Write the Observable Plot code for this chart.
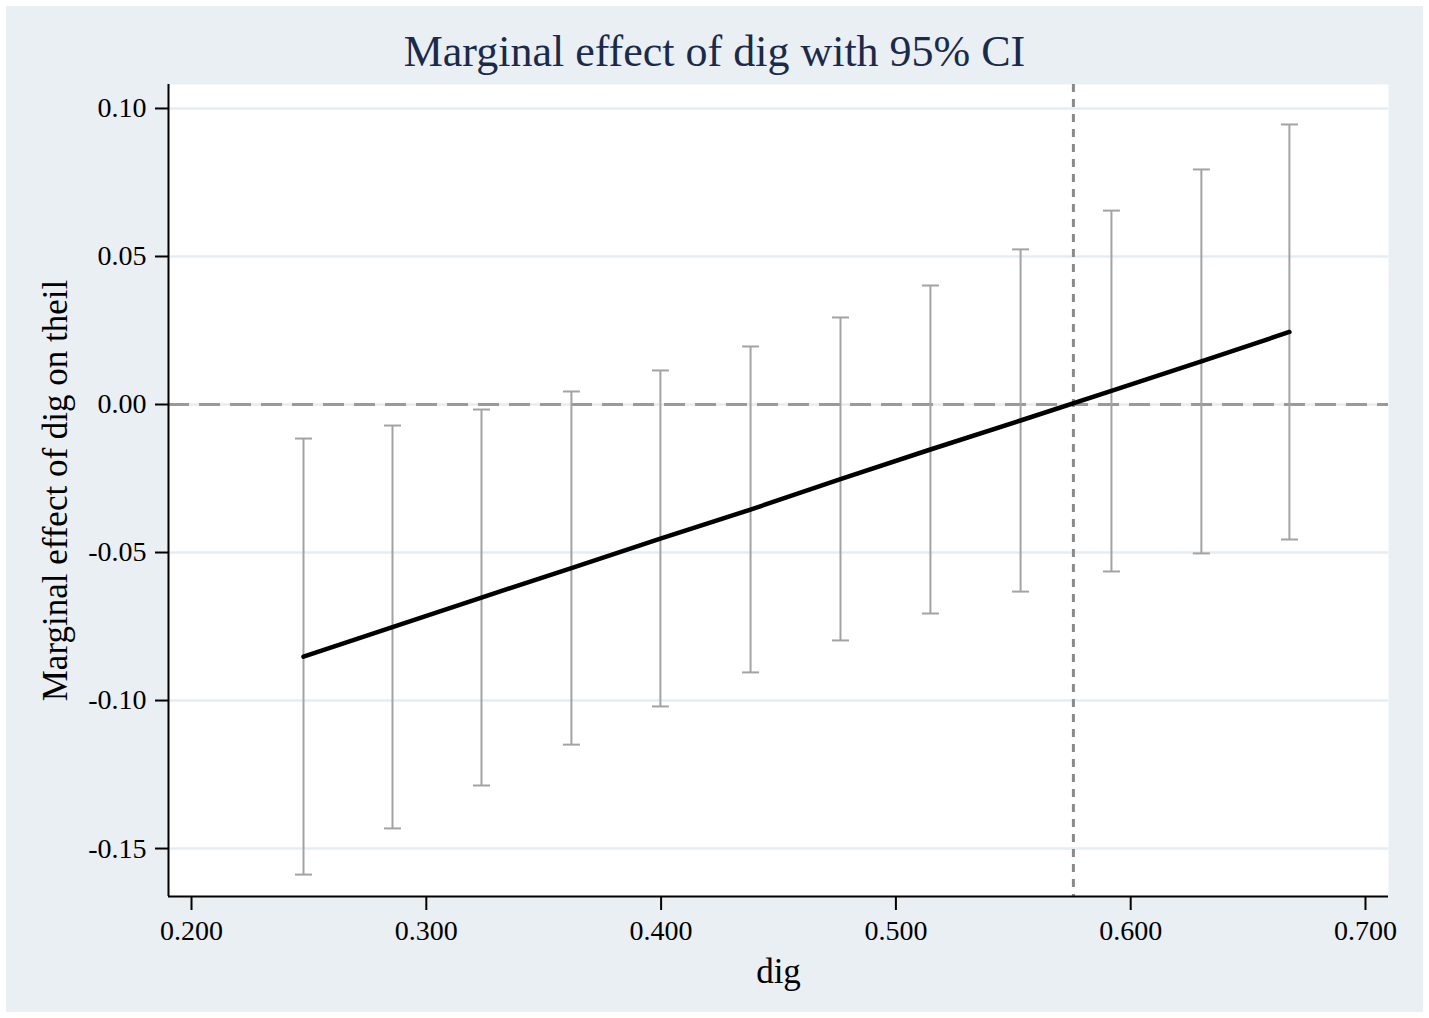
<!DOCTYPE html>
<html>
<head>
<meta charset="utf-8">
<script src="https://cdn.jsdelivr.net/npm/d3@7"></script>
<script src="https://cdn.jsdelivr.net/npm/@observablehq/plot@0.6"></script>
<style>
  html, body { margin: 0; padding: 0; background: #ffffff; }
  #panel { position: absolute; left: 6px; top: 6px; width: 1417px; height: 1006px; background: #e9eff3; }
  #title { position: absolute; left: 0; top: 0; width: 1417px; height: 64px; text-align: center;
           font-family: "Liberation Serif", "Times New Roman", serif; font-size: 44px; color: #1b2a4a;
           line-height: 46px; padding-top: 23px; box-sizing: border-box; }
  #chart { position: absolute; left: 0; top: 64px; }
  #chart svg { background: transparent; overflow: visible; }
</style>
</head>
<body>
<div id="panel">
  <div id="title">Marginal effect of dig with 95% CI</div>
  <div id="chart"></div>
</div>
<script>
// Data
const dig = [0.2477, 0.2856, 0.3235, 0.3618, 0.3997, 0.4381, 0.4764, 0.5147, 0.5531, 0.5918, 0.6301, 0.6676];
const effect = [-0.0852, -0.0752, -0.0652, -0.0553, -0.0453, -0.0355, -0.0252, -0.0152, -0.0054, 0.0046, 0.0146, 0.0245];
const ciUpper = [-0.0115, -0.0071, -0.0017, 0.0044, 0.0115, 0.0196, 0.0294, 0.0402, 0.0524, 0.0655, 0.0794, 0.0946];
const ciLower = [-0.1588, -0.1432, -0.1287, -0.1149, -0.1020, -0.0905, -0.0797, -0.0706, -0.0632, -0.0564, -0.0503, -0.0456];
const xTicks = [0.2, 0.3, 0.4, 0.5, 0.6, 0.7];
const yTicks = [0.10, 0.05, 0.00, -0.05, -0.10, -0.15];
const xDomain = [0.1902, 0.7098];
const yDomain = [-0.1662, 0.1081];
const threshold = 0.5756;
const titleText = "Marginal effect of dig with 95% CI";
const xLabel = "dig";
const yLabel = "Marginal effect of dig on theil";

const rows = dig.map((d, i) => ({x: d, est: effect[i], hi: ciUpper[i], lo: ciLower[i]}));

const cap = {
  draw(ctx) { ctx.moveTo(-8.5, 0); ctx.lineTo(8.5, 0); }
};

const serif = "'Liberation Serif', 'Times New Roman', serif";

const plot = Plot.plot({
  width: 1417,
  height: 942,
  marginLeft: 162,
  marginRight: 35,
  marginTop: 14,
  marginBottom: 116,
  style: { fontFamily: serif, background: "transparent", color: "black" },
  x: { domain: xDomain },
  y: { domain: yDomain },
  marks: [
    Plot.frame({ fill: "white", stroke: null }),
    Plot.gridY(yTicks, { stroke: "#e6edf2", strokeOpacity: 1, strokeWidth: 2.5 }),
    Plot.ruleY([0], { stroke: "#9a9a9a", strokeWidth: 3, strokeDasharray: "21,10" }),
    Plot.ruleX([threshold], { stroke: "#8a8a8a", strokeWidth: 3, strokeDasharray: "8,7" }),
    Plot.ruleX(rows, { x: "x", y1: "lo", y2: "hi", stroke: "#a3a3a3", strokeWidth: 2 }),
    Plot.dot(rows, { x: "x", y: "hi", symbol: cap, stroke: "#a3a3a3", strokeWidth: 2, fill: "none" }),
    Plot.dot(rows, { x: "x", y: "lo", symbol: cap, stroke: "#a3a3a3", strokeWidth: 2, fill: "none" }),
    Plot.line(rows, { x: "x", y: "est", stroke: "black", strokeWidth: 4.5 }),
    Plot.ruleX([xDomain[0]], { stroke: "black", strokeWidth: 2 }),
    Plot.ruleY([yDomain[0]], { stroke: "black", strokeWidth: 2 }),
    Plot.axisX(xTicks, { tickFormat: d3.format(".3f"), tickSize: 14, tickPadding: 10, fontSize: 28, strokeWidth: 2, label: null, fill: "black" }),
    Plot.axisY(yTicks, { tickFormat: d => d3.format(".2f")(d).replace("−", "-"), tickSize: 13, tickPadding: 9, fontSize: 28, strokeWidth: 2, label: null, fill: "black" }),
    Plot.text([xLabel], { frameAnchor: "bottom", dy: 75, fontSize: 35, fill: "black", lineAnchor: "middle", textAnchor: "middle" }),
    Plot.text([yLabel], { frameAnchor: "left", dx: -113, rotate: -90, fontSize: 35, fill: "black", lineAnchor: "middle", textAnchor: "middle" })
  ]
});
document.getElementById("chart").appendChild(plot);
</script>
</body>
</html>
